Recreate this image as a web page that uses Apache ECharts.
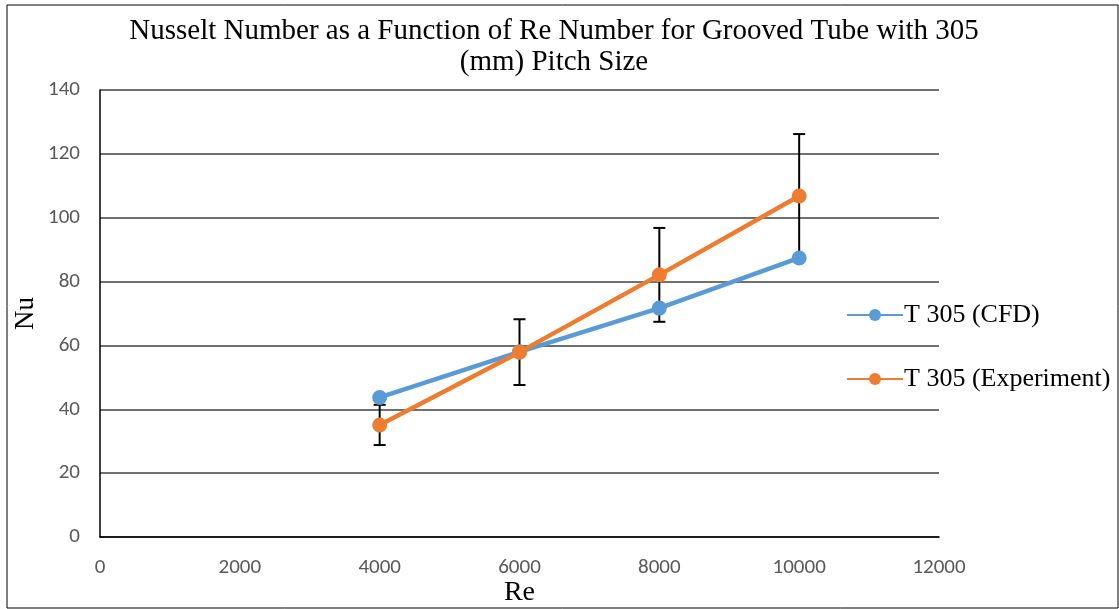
<!DOCTYPE html>
<html>
<head>
<meta charset="utf-8">
<script src="https://cdn.jsdelivr.net/npm/echarts@6/dist/echarts.min.js"></script>
<style>
  html, body { margin: 0; padding: 0; background: #fff; }
  #container { width: 1119px; height: 609px; }
</style>
</head>
<body>
<div id="container"></div>
<script>
const re = [4000, 6000, 8000, 10000]
const nuCfd = [43.7, 58.0, 71.7, 87.4]
const nuExp = [35.1, 57.9, 82.1, 106.8]
const expError = [6.3, 10.3, 14.7, 19.4]

const serif = '"Liberation Serif", "DejaVu Serif", serif'
const sans = 'Carlito, Lato, "Open Sans", sans-serif'

const myChart = echarts.init(document.getElementById('container'))

const errorData = re.map((x, i) => [x, nuExp[i] - expError[i], nuExp[i] + expError[i]])

const option = {
    backgroundColor: '#fff',
    animation: false,
    title: {
        text: 'Nusselt Number as a Function of Re Number for Grooved Tube with 305\n(mm) Pitch Size',
        left: 549,
        textAlign: 'center',
        top: 11,
        textStyle: {
            fontFamily: serif,
            fontWeight: 'normal',
            fontSize: 29,
            color: '#000',
            lineHeight: 31
        }
    },
    graphic: [
        {
            type: 'rect',
            shape: { x: 7, y: 5, width: 1111, height: 603 },
            style: { fill: 'none', stroke: '#000', lineWidth: 1 },
            silent: true
        }
    ],
    grid: {
        left: 100,
        right: 180,
        top: 90,
        bottom: 72,
        containLabel: false,
        outerBoundsMode: 'none'
    },
    legend: {
        orient: 'vertical',
        left: 841,
        top: 297,
        itemGap: 38,
        itemWidth: 56,
        itemHeight: 15,
        data: ['T 305 (CFD)', 'T 305 (Experiment)'],
        textStyle: {
            fontFamily: serif,
            fontSize: 26,
            color: '#000',
            padding: [0, 0, 0, -4]
        }
    },
    xAxis: {
        type: 'value',
        min: 0,
        max: 12000,
        interval: 2000,
        name: 'Re',
        nameLocation: 'middle',
        nameGap: 42,
        nameMoveOverlap: false,
        nameTextStyle: { fontFamily: serif, fontSize: 28, color: '#000' },
        axisLine: { show: true, lineStyle: { color: '#000', width: 1.5 } },
        axisTick: { show: false },
        splitLine: { show: false },
        axisLabel: {
            fontFamily: sans,
            fontSize: 21,
            color: '#595959',
            margin: 20,
            formatter: (v) => String(v)
        }
    },
    yAxis: {
        type: 'value',
        min: 0,
        max: 140,
        interval: 20,
        name: 'Nu',
        nameLocation: 'middle',
        nameGap: 61,
        nameMoveOverlap: false,
        nameTextStyle: { fontFamily: serif, fontSize: 27, color: '#000' },
        axisLine: { show: true, lineStyle: { color: '#000', width: 1.5 } },
        axisTick: { show: false },
        splitLine: { show: true, lineStyle: { color: '#404040', width: 1.5 } },
        axisLabel: { fontFamily: sans, fontSize: 21, color: '#595959', margin: 20 }
    },
    series: [
        {
            type: 'custom',
            name: 'error',
            z: 1,
            data: errorData,
            encode: { x: 0, y: [1, 2] },
            renderItem: (params, api) => {
                const x = api.value(0)
                const lo = api.coord([x, api.value(1)])
                const hi = api.coord([x, api.value(2)])
                const half = 6
                const style = { stroke: '#000', lineWidth: 2 }
                return {
                    type: 'group',
                    children: [
                        { type: 'line', shape: { x1: hi[0], y1: hi[1], x2: lo[0], y2: lo[1] }, style },
                        { type: 'line', shape: { x1: hi[0] - half, y1: hi[1], x2: hi[0] + half, y2: hi[1] }, style },
                        { type: 'line', shape: { x1: lo[0] - half, y1: lo[1], x2: lo[0] + half, y2: lo[1] }, style }
                    ]
                }
            }
        },
        {
            name: 'T 305 (CFD)',
            type: 'line',
            z: 3,
            data: re.map((x, i) => [x, nuCfd[i]]),
            symbol: 'circle',
            symbolSize: 15,
            lineStyle: { color: '#5B9BD5', width: 4.5 },
            itemStyle: { color: '#5B9BD5' }
        },
        {
            name: 'T 305 (Experiment)',
            type: 'line',
            z: 4,
            data: re.map((x, i) => [x, nuExp[i]]),
            symbol: 'circle',
            symbolSize: 15,
            lineStyle: { color: '#ED7D31', width: 4.5 },
            itemStyle: { color: '#ED7D31' }
        }
    ]
}

myChart.setOption(option)
</script>
</body>
</html>
